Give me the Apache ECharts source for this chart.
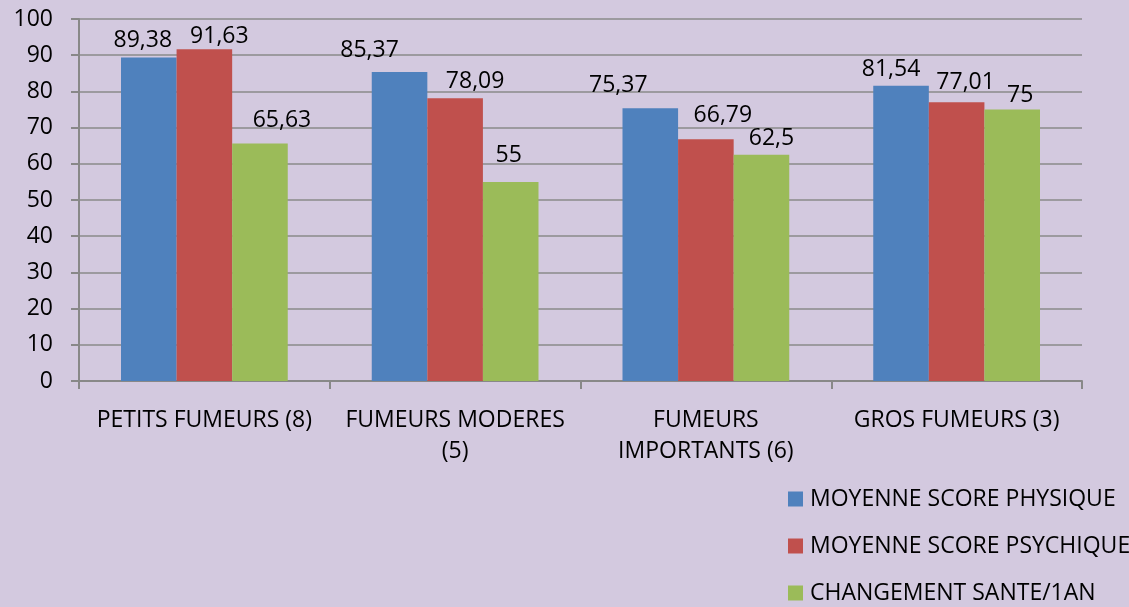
<!DOCTYPE html>
<html lang="fr">
<head>
	<meta charset="UTF-8">
	<title>Scores par type de fumeurs</title>
	<script src="https://cdn.jsdelivr.net/npm/echarts@6/dist/echarts.min.js"></script>
	<style>
		html, body { margin: 0; padding: 0; background: #d3c9df; }
		#chart { width: 1129px; height: 607px; }
	</style>
</head>
<body>
	<div id="chart"></div>
</body>
<script>
var categories = ['PETITS FUMEURS (8)', 'FUMEURS MODERES\n(5)', 'FUMEURS\nIMPORTANTS (6)', 'GROS FUMEURS (3)'];
var seriesNames = ['MOYENNE SCORE PHYSIQUE', 'MOYENNE SCORE PSYCHIQUE', 'CHANGEMENT SANTE/1AN'];
var physique = [89.38, 85.37, 75.37, 81.54];
var psychique = [91.63, 78.09, 66.79, 77.01];
var sante = [65.63, 55, 62.5, 75];
var colors = ['#4f81bd', '#c0504d', '#9bbb59'];

// the labels were moved by hand in the original, so nudge them the same way
var physiqueLabelOffsets = [[-6, -5], [-30, -10], [-32, -11], [-10, -5]];
var psychiqueLabelOffsets = [[15, -1], [20, -5], [17, -12], [9, -8]];
var santeLabelOffsets = [[22, -11], [-2, -15], [10, -5], [8, -3]];

var font = '"Open Sans", "Noto Sans", sans-serif';

function bar(name, values, offsets, color) {
    return {
        name: name,
        type: 'bar',
        data: values.map(function (v, i) {
            return { value: v, label: { offset: offsets[i] } };
        }),
        barGap: '0%',
        barCategoryGap: '33.5%',
        itemStyle: { color: color },
        label: {
            show: true,
            position: 'top',
            distance: 0,
            color: '#000',
            fontFamily: font,
            fontSize: 23,
            formatter: function (p) {
                return String(p.value).replace('.', ',');
            }
        }
    };
}

var myChart = echarts.init(document.getElementById('chart'));
var option = {
    backgroundColor: '#d3c9df',
    color: colors,
    animation: false,
    textStyle: { fontFamily: font },
    grid: { left: 79, right: 47, top: 19, bottom: 226, containLabel: false },
    legend: {
        orient: 'vertical',
        left: 788,
        top: 487,
        height: 140,
        padding: 0,
        itemWidth: 15,
        itemHeight: 15,
        itemGap: 23,
        icon: 'rect',
        data: seriesNames,
        textStyle: { color: '#000', fontSize: 23, lineHeight: 24, fontFamily: font, padding: [0, 0, 0, 2] }
    },
    xAxis: {
        type: 'category',
        data: categories,
        axisLine: { lineStyle: { color: '#888', width: 2 } },
        axisTick: { show: true, length: 8, lineStyle: { color: '#888', width: 2 } },
        axisLabel: {
            color: '#000',
            fontSize: 23,
            fontFamily: font,
            margin: 24,
            lineHeight: 31,
            interval: 0
        }
    },
    yAxis: {
        type: 'value',
        min: 0,
        max: 100,
        interval: 10,
        axisLine: { show: true, lineStyle: { color: '#888', width: 2 } },
        axisTick: { show: true, length: 8, lineStyle: { color: '#888', width: 2 } },
        splitLine: { lineStyle: { color: '#8a8a8a', width: 1.5 } },
        axisLabel: { color: '#000', fontSize: 23, fontFamily: font, margin: 26 }
    },
    series: [
        bar(seriesNames[0], physique, physiqueLabelOffsets, colors[0]),
        bar(seriesNames[1], psychique, psychiqueLabelOffsets, colors[1]),
        bar(seriesNames[2], sante, santeLabelOffsets, colors[2])
    ]
};
myChart.setOption(option);
</script>
</html>
